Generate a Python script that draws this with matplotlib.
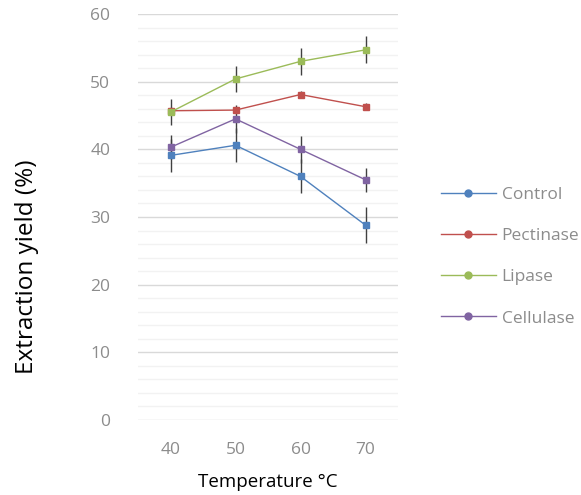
import matplotlib
matplotlib.use("Agg")
import matplotlib.pyplot as plt
from matplotlib.lines import Line2D
import numpy as np

plt.rcParams['font.family'] = ['Open Sans', 'DejaVu Sans']

temps = ["40", "50", "60", "70"]
series_names = ["Control", "Pectinase", "Lipase", "Cellulase"]
control = [39.1, 40.6, 36.0, 28.8]
control_err = [2.4, 2.5, 2.5, 2.7]
pectinase = [45.7, 45.8, 48.1, 46.3]
pectinase_err = [0.5, 0.5, 0.5, 0.5]
lipase = [45.5, 50.4, 53.0, 54.7]
lipase_err = [1.9, 1.9, 2.0, 2.0]
cellulase = [40.3, 44.5, 40.0, 35.5]
cellulase_err = [1.8, 2.1, 2.0, 1.8]
colors = ["#4F81BD", "#C0504D", "#9BBB59", "#8064A2"]

W, H = 581, 495
fig = plt.figure(figsize=(W/100, H/100), dpi=100)
ax = fig.add_axes([138/W, 1-420/H, 260/W, (420-14)/H])

x = np.arange(len(temps))
data = [(control, control_err), (pectinase, pectinase_err), (lipase, lipase_err), (cellulase, cellulase_err)]
for (vals, errs), c, name in zip(data, colors, series_names):
    ax.errorbar(x, vals, yerr=errs, color=c, ecolor="#404040", elinewidth=1.0, capsize=0,
                marker="s", markersize=4.5, linewidth=1.0, label=name, zorder=3)

ax.set_xlim(-0.5, 3.5)
ax.set_ylim(0, 60)
ax.set_xticks(x)
ax.set_xticklabels(temps)
ax.set_yticks(np.arange(0, 61, 10))
ax.set_yticks(np.arange(0, 61, 2), minor=True)
ax.grid(True, which="major", axis="y", color="#d9d9d9", linewidth=1.0, zorder=0)
ax.grid(True, which="minor", axis="y", color="#f2f2f2", linewidth=1.0, zorder=0)
ax.set_axisbelow(True)
for s in ax.spines.values():
    s.set_visible(False)
ax.tick_params(axis="both", which="both", length=0, labelsize=12.5, labelcolor="#8c8c8c")
ax.tick_params(axis="x", pad=16)
ax.tick_params(axis="y", pad=20)

fig.text(27/W, 1-267/H, "Extraction yield (%)", fontsize=17.5, color="black",
         rotation=90, ha="center", va="center")
fig.text(268/W, 1-482/H, "Temperature \u00b0C", fontsize=13.5, color="black",
         ha="center", va="center")

handles = [Line2D([0], [0], color=c, marker="o", markersize=5, linewidth=1.0) for c in colors]
leg = fig.legend(handles, series_names, loc="upper left", bbox_to_anchor=(434/W, 1-180/H),
                 frameon=False, fontsize=12.5, labelcolor="#8c8c8c", handlelength=3.15,
                 labelspacing=1.44, handletextpad=0.35, borderaxespad=0)

fig.savefig("out.png", dpi=100)
